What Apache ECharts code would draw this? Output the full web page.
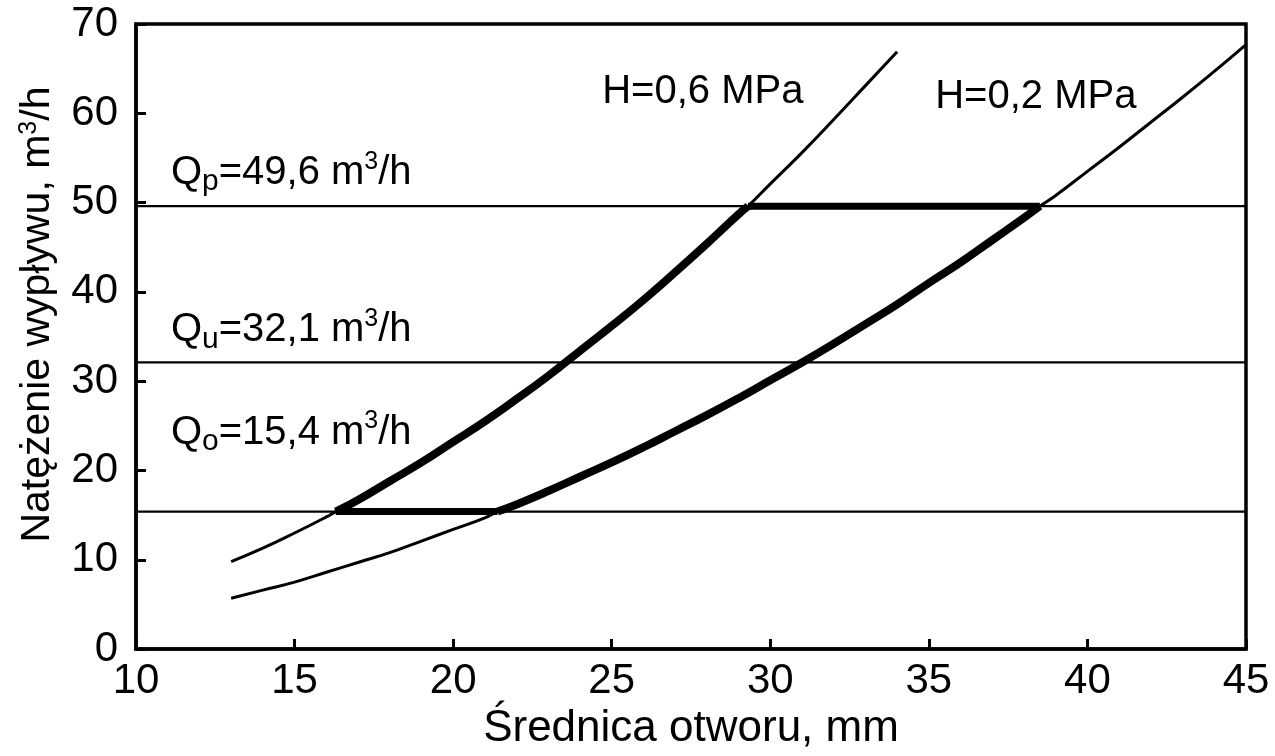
<!DOCTYPE html>
<html>
<head>
<meta charset="utf-8">
<title>Natężenie wypływu</title>
<script src="https://cdn.jsdelivr.net/npm/echarts@6/dist/echarts.min.js"></script>
<style>
  html, body { margin: 0; padding: 0; background: #fff; }
  #chart { width: 1275px; height: 756px; }
</style>
</head>
<body>
<div id="chart"></div>
<script>
  // średnica otworu [mm] -> natężenie wypływu [m3/h]
  var dia06 = [13, 14, 15, 16, 16.3, 17, 18, 19, 20, 21, 22, 23, 24, 25, 26, 27, 28, 29, 29.3, 30, 31, 32, 33, 34]
  var q06 = [9.8, 11.3, 13.0, 14.8, 15.4, 16.7, 18.8, 20.9, 23.2, 25.5, 28.0, 30.6, 33.4, 36.2, 39.1, 42.2, 45.4, 48.7, 49.6, 52.1, 55.6, 59.3, 63.1, 66.9]
  var dia02 = [13, 14, 15, 16, 17, 18, 19, 20, 21, 21.4, 22, 23, 24, 25, 26, 27, 28, 29, 30, 31, 32, 33, 34, 35, 36, 37, 38, 38.5, 39, 40, 41, 42, 43, 44, 45]
  var q02 = [5.7, 6.6, 7.5, 8.6, 9.7, 10.8, 12.1, 13.4, 14.7, 15.4, 16.2, 17.7, 19.3, 20.9, 22.6, 24.4, 26.2, 28.1, 30.1, 32.1, 34.2, 36.4, 38.6, 41.0, 43.3, 45.8, 48.3, 49.6, 50.8, 53.5, 56.2, 59.0, 61.8, 64.7, 67.7]

  // poziomy natężenia: Qp, Qu, Qo
  var qLevels = [49.6, 32.1, 15.4]
  var qSubs = ['p', 'u', 'o']
  // zakres pracy na liniach Qp i Qo (przecięcia krzywych)
  var spanQp = [29.3, 38.5]
  var spanQo = [16.3, 21.4]

  var xRange = [10, 45]
  var yRange = [0, 70]

  var font = 'Liberation Sans, Arial, Helvetica, sans-serif'
  var chart = echarts.init(document.getElementById('chart'))

  function pairs (xs, ys, lo, hi) {
    var out = []
    xs.forEach(function (x, i) {
      if (x >= lo && x <= hi) out.push([x, ys[i]])
    })
    return out
  }

  function line (data, width) {
    return {
      type: 'line',
      data: data,
      smooth: true,
      showSymbol: false,
      silent: true,
      lineStyle: { color: '#000', width: width },
      z: width > 4 ? 4 : 3
    }
  }

  function text (x, y, str) {
    return {
      type: 'scatter',
      data: [[x, y]],
      symbolSize: 0,
      silent: true,
      z: 6,
      itemStyle: { opacity: 1 },
      label: {
        show: true,
        position: 'right',
        distance: 0,
        formatter: str,
        color: '#000',
        opacity: 1,
        fontFamily: font,
        fontSize: 40,
        rich: {
          m: { fontFamily: font, fontSize: 40, lineHeight: 48, color: '#000' },
          s: { fontFamily: font, fontSize: 30, lineHeight: 30, verticalAlign: 'bottom', color: '#000' },
          u: { fontFamily: font, fontSize: 25, lineHeight: 25, verticalAlign: 'top', color: '#000' }
        }
      }
    }
  }

  function qLabel (i) {
    var v = qLevels[i].toFixed(1).replace('.', ',')
    return '{m|Q}{s|' + qSubs[i] + '}{m|=' + v + ' m}{u|3}{m|/h}'
  }

  var series = [
    line(dia06.map(function (d, i) { return [d, q06[i]] }), 3),
    line(dia02.map(function (d, i) { return [d, q02[i]] }), 3),
    line(pairs(dia06, q06, spanQo[0], spanQp[0]), 8),
    line(pairs(dia02, q02, spanQo[1], spanQp[1]), 8),
    line([[spanQp[0], qLevels[0]], [spanQp[1], qLevels[0]]], 7),
    line([[spanQo[0], qLevels[2]], [spanQo[1], qLevels[2]]], 7)
  ]
  qLevels.forEach(function (q) {
    series.push(line([[xRange[0], q], [xRange[1], q]], 2.2))
  })
  series.push(text(11.1, 53.3, qLabel(0)))
  series.push(text(11.1, 35.7, qLabel(1)))
  series.push(text(11.1, 24.2, qLabel(2)))
  series.push(text(24.7, 62.4, '{m|H=0,6 MPa}'))
  series.push(text(35.2, 61.8, '{m|H=0,2 MPa}'))

  var option = {
    animation: false,
    backgroundColor: '#fff',
    grid: {
      left: 136,
      right: 29,
      top: 24,
      bottom: 101,
      show: true,
      borderColor: '#000',
      borderWidth: 3.5
    },
    xAxis: {
      type: 'value',
      min: xRange[0],
      max: xRange[1],
      interval: 5,
      name: 'Średnica otworu, mm',
      nameLocation: 'middle',
      nameGap: 54,
      nameTextStyle: { fontFamily: font, fontSize: 44, color: '#000' },
      axisLine: { lineStyle: { color: '#000', width: 3.5 } },
      axisTick: { inside: true, length: 10, lineStyle: { color: '#000', width: 3 } },
      axisLabel: { fontFamily: font, fontSize: 42, color: '#000', margin: 11 },
      splitLine: { show: false }
    },
    yAxis: {
      type: 'value',
      min: yRange[0],
      max: yRange[1],
      interval: 10,
      name: 'Natężenie wypływu, m{u|3}/h',
      nameLocation: 'middle',
      nameRotate: 90,
      nameGap: 78,
      nameTextStyle: {
        fontFamily: font,
        fontSize: 41,
        color: '#000',
        padding: [0, 0, 0, 44],
        rich: {
          u: { fontFamily: font, fontSize: 25, lineHeight: 25, verticalAlign: 'top', color: '#000' }
        }
      },
      axisLine: { lineStyle: { color: '#000', width: 3.5 } },
      axisTick: { inside: true, length: 10, lineStyle: { color: '#000', width: 3 } },
      axisLabel: { fontFamily: font, fontSize: 42, color: '#000', margin: 18 },
      splitLine: { show: false }
    },
    series: series
  }

  chart.setOption(option)
</script>
</body>
</html>
